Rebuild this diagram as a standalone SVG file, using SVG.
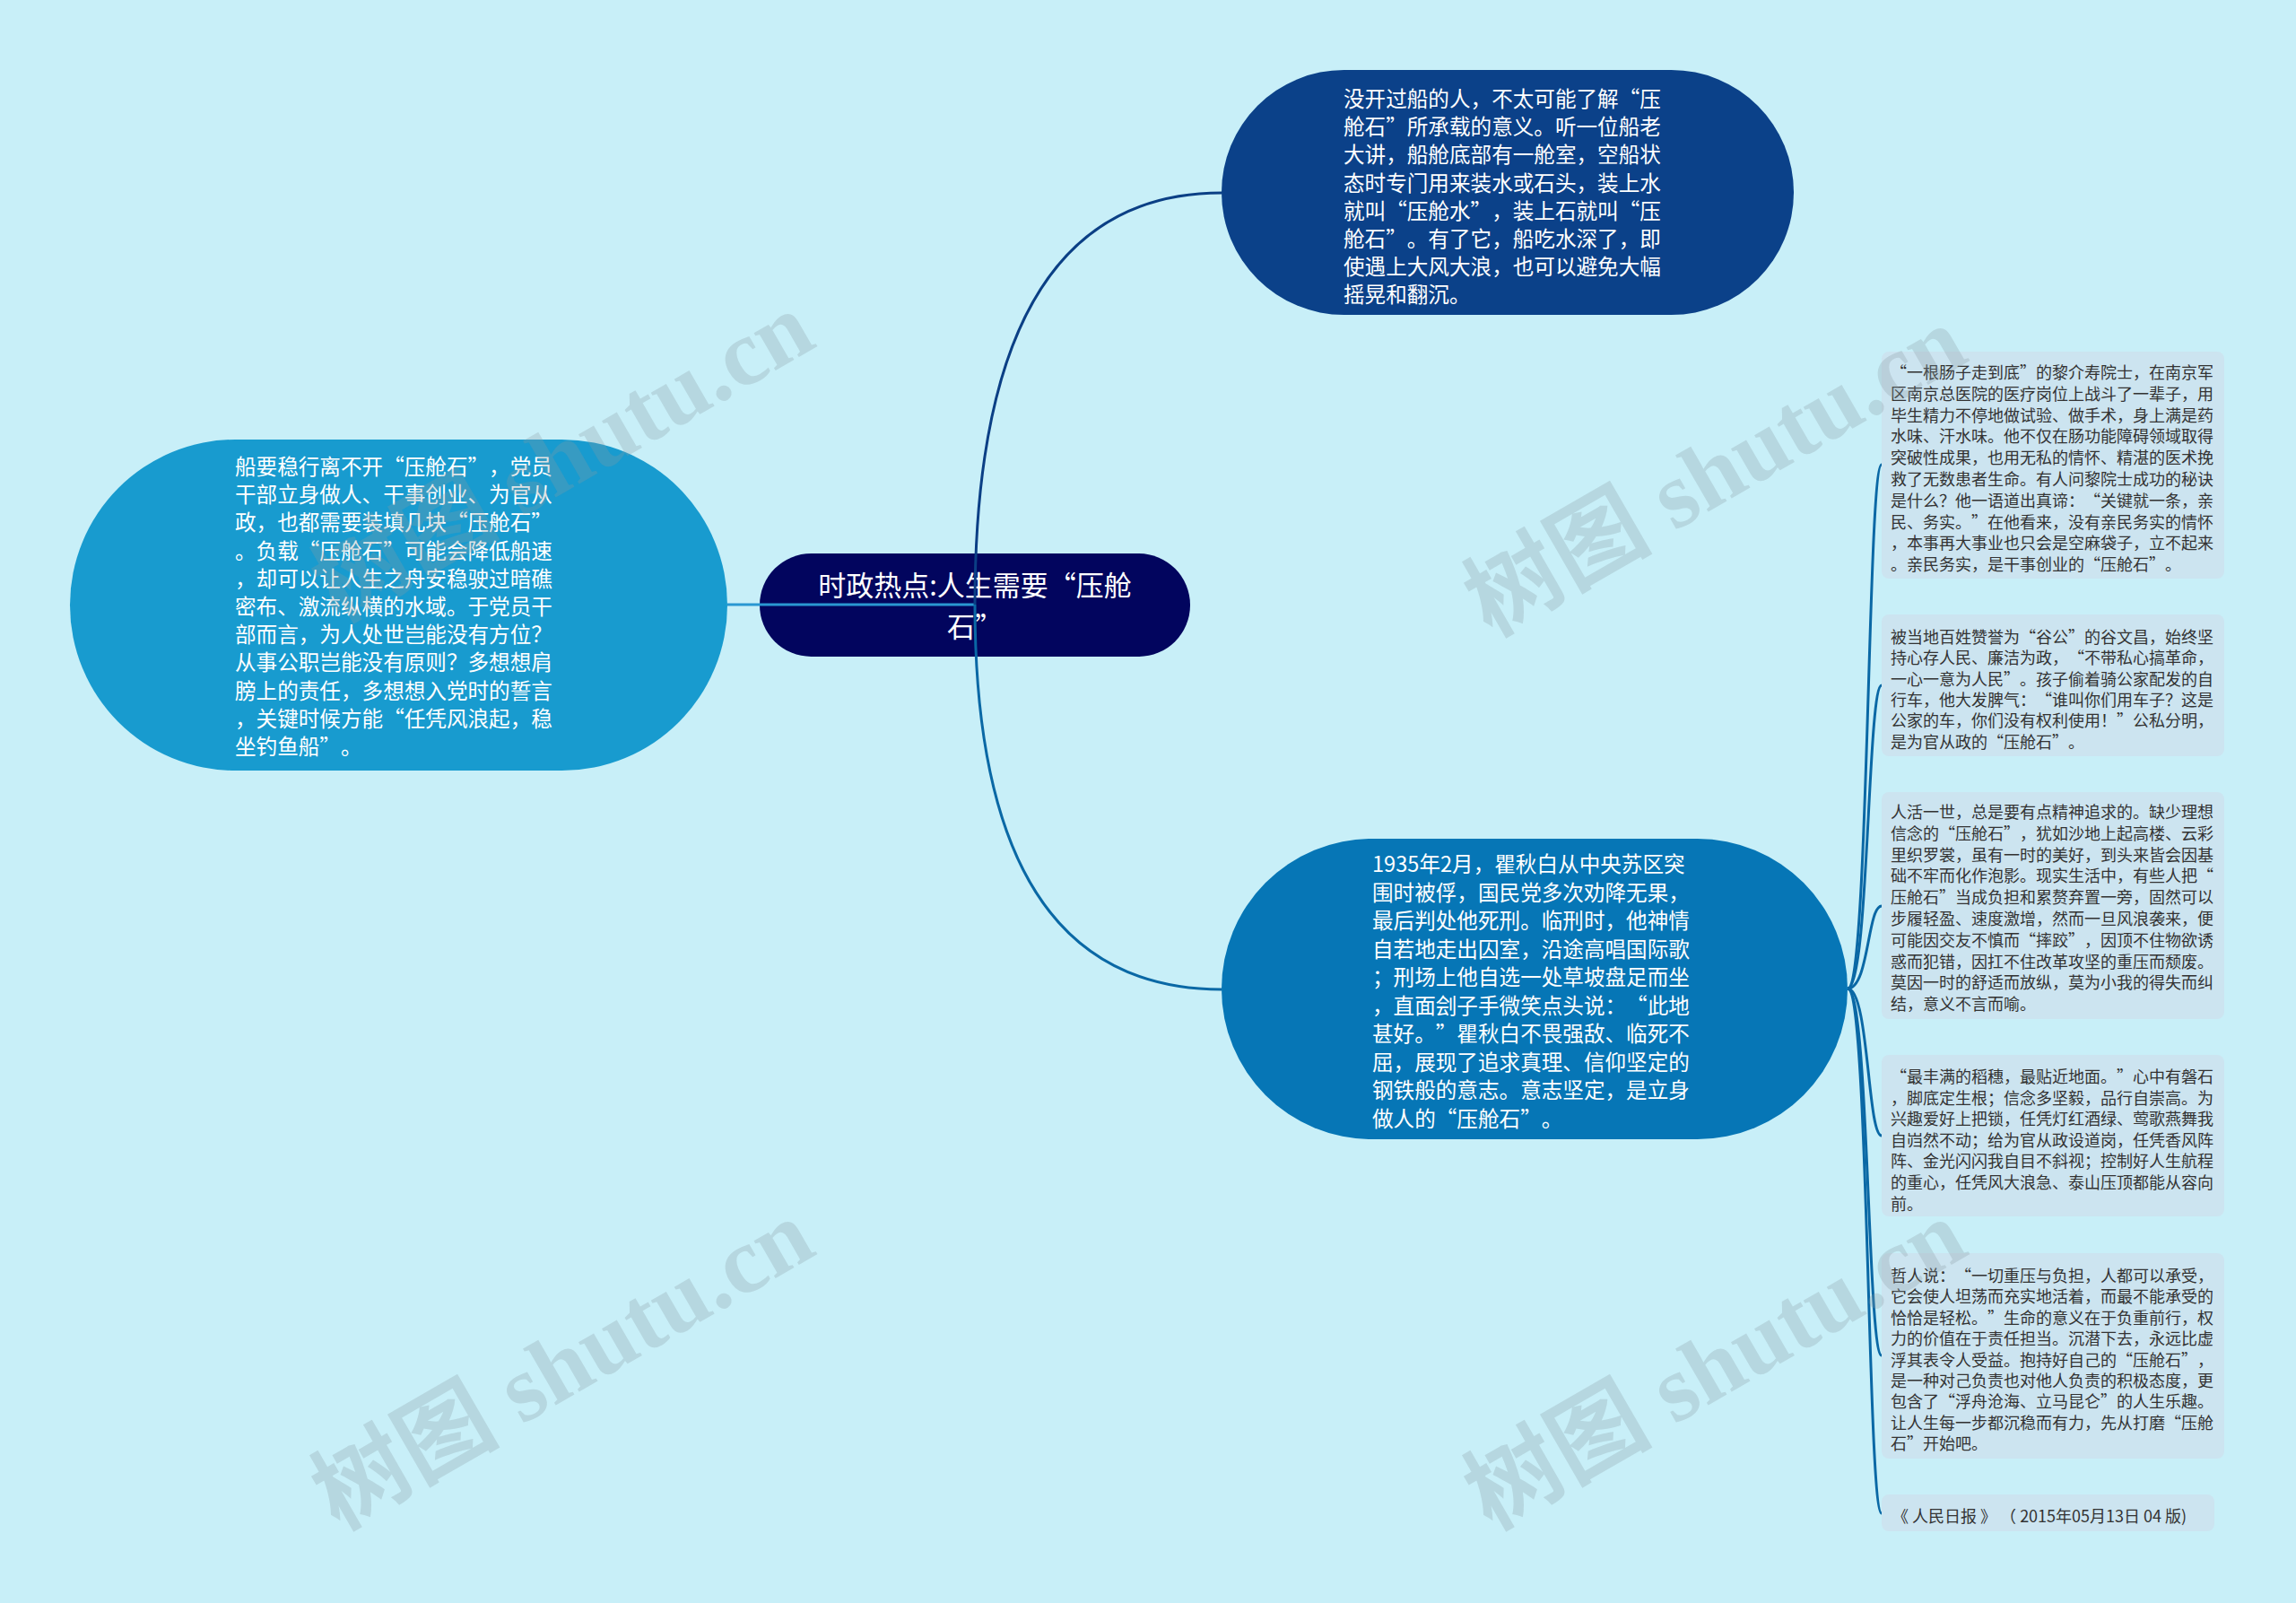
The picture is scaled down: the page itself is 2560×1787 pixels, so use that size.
<svg xmlns="http://www.w3.org/2000/svg" width="2560" height="1787" viewBox="0 0 2560 1787">
<style>
text{text-spacing-trim:space-all;}
.cjk{font-family:"Noto Sans CJK SC","Noto Sans",sans-serif;}
.big{font-size:23.6px;fill:#ffffff;}
.small{font-size:18px;fill:#333333;}
.root{font-size:31px;fill:#ffffff;}
.box{fill:#cce4f0;}
.conn{fill:none;stroke-width:3;}
.wm{font-family:"Liberation Serif","Noto Sans CJK SC",serif;font-size:105px;font-weight:bold;fill:#8a9aa0;fill-opacity:0.28;}
</style>
<rect x="0" y="0" width="2560" height="1787" fill="#c8eff8"/>

<g id="node-root">
<rect x="847" y="617" width="480" height="115" rx="57.5" fill="#02055e"/>
<text class="cjk root" text-anchor="middle"><tspan x="1087" y="664">时政热点:人生需要“压舱</tspan><tspan x="1087" y="710">石”</tspan></text>
</g>

<g id="node-left">
<rect x="78" y="490" width="733" height="369" rx="184.5" fill="#189bcf"/>
<text class="cjk big">
<tspan x="262" y="529">船要稳行离不开“压舱石”，党员</tspan>
<tspan x="262" dy="31.2">干部立身做人、干事创业、为官从</tspan>
<tspan x="262" dy="31.2">政，也都需要装填几块“压舱石”</tspan>
<tspan x="262" dy="31.2">。负载“压舱石”可能会降低船速</tspan>
<tspan x="262" dy="31.2">，却可以让人生之舟安稳驶过暗礁</tspan>
<tspan x="262" dy="31.2">密布、激流纵横的水域。于党员干</tspan>
<tspan x="262" dy="31.2">部而言，为人处世岂能没有方位？</tspan>
<tspan x="262" dy="31.2">从事公职岂能没有原则？多想想肩</tspan>
<tspan x="262" dy="31.2">膀上的责任，多想想入党时的誓言</tspan>
<tspan x="262" dy="31.2">，关键时候方能“任凭风浪起，稳</tspan>
<tspan x="262" dy="31.2">坐钓鱼船”。</tspan>
</text>
</g>

<g id="node-top">
<rect x="1362" y="78" width="638" height="273" rx="136.5" fill="#0b4189"/>
<text class="cjk big">
<tspan x="1498" y="119">没开过船的人，不太可能了解“压</tspan>
<tspan x="1498" dy="31.2">舱石”所承载的意义。听一位船老</tspan>
<tspan x="1498" dy="31.2">大讲，船舱底部有一舱室，空船状</tspan>
<tspan x="1498" dy="31.2">态时专门用来装水或石头，装上水</tspan>
<tspan x="1498" dy="31.2">就叫“压舱水”，装上石就叫“压</tspan>
<tspan x="1498" dy="31.2">舱石”。有了它，船吃水深了，即</tspan>
<tspan x="1498" dy="31.2">使遇上大风大浪，也可以避免大幅</tspan>
<tspan x="1498" dy="31.2">摇晃和翻沉。</tspan>
</text>
</g>

<g id="node-bottom">
<rect x="1362" y="935" width="698" height="335" rx="167.5" fill="#0676b6"/>
<text class="cjk big">
<tspan x="1530" y="972">1935年2月，瞿秋白从中央苏区突</tspan>
<tspan x="1530" dy="31.5">围时被俘，国民党多次劝降无果，</tspan>
<tspan x="1530" dy="31.5">最后判处他死刑。临刑时，他神情</tspan>
<tspan x="1530" dy="31.5">自若地走出囚室，沿途高唱国际歌</tspan>
<tspan x="1530" dy="31.5">；刑场上他自选一处草坡盘足而坐</tspan>
<tspan x="1530" dy="31.5">，直面刽子手微笑点头说：“此地</tspan>
<tspan x="1530" dy="31.5">甚好。”瞿秋白不畏强敌、临死不</tspan>
<tspan x="1530" dy="31.5">屈，展现了追求真理、信仰坚定的</tspan>
<tspan x="1530" dy="31.5">钢铁般的意志。意志坚定，是立身</tspan>
<tspan x="1530" dy="31.5">做人的“压舱石”。</tspan>
</text>
</g>

<g id="leaf-1">
<rect class="box" x="2098" y="392" width="382" height="253" rx="8"/>
<text class="cjk small">
<tspan x="2108" y="422">“一根肠子走到底”的黎介寿院士，在南京军</tspan>
<tspan x="2108" dy="23.8">区南京总医院的医疗岗位上战斗了一辈子，用</tspan>
<tspan x="2108" dy="23.8">毕生精力不停地做试验、做手术，身上满是药</tspan>
<tspan x="2108" dy="23.8">水味、汗水味。他不仅在肠功能障碍领域取得</tspan>
<tspan x="2108" dy="23.8">突破性成果，也用无私的情怀、精湛的医术挽</tspan>
<tspan x="2108" dy="23.8">救了无数患者生命。有人问黎院士成功的秘诀</tspan>
<tspan x="2108" dy="23.8">是什么？他一语道出真谛：“关键就一条，亲</tspan>
<tspan x="2108" dy="23.8">民、务实。”在他看来，没有亲民务实的情怀</tspan>
<tspan x="2108" dy="23.8">，本事再大事业也只会是空麻袋子，立不起来</tspan>
<tspan x="2108" dy="23.8">。亲民务实，是干事创业的“压舱石”。</tspan>
</text>
</g>

<g id="leaf-2">
<rect class="box" x="2098" y="685" width="382" height="158" rx="8"/>
<text class="cjk small">
<tspan x="2108" y="717">被当地百姓赞誉为“谷公”的谷文昌，始终坚</tspan>
<tspan x="2108" dy="23.3">持心存人民、廉洁为政，“不带私心搞革命，</tspan>
<tspan x="2108" dy="23.3">一心一意为人民”。孩子偷着骑公家配发的自</tspan>
<tspan x="2108" dy="23.3">行车，他大发脾气：“谁叫你们用车子？这是</tspan>
<tspan x="2108" dy="23.3">公家的车，你们没有权利使用！”公私分明，</tspan>
<tspan x="2108" dy="23.3">是为官从政的“压舱石”。</tspan>
</text>
</g>

<g id="leaf-3">
<rect class="box" x="2098" y="883" width="382" height="253" rx="8"/>
<text class="cjk small">
<tspan x="2108" y="912">人活一世，总是要有点精神追求的。缺少理想</tspan>
<tspan x="2108" dy="23.8">信念的“压舱石”，犹如沙地上起高楼、云彩</tspan>
<tspan x="2108" dy="23.8">里织罗裳，虽有一时的美好，到头来皆会因基</tspan>
<tspan x="2108" dy="23.8">础不牢而化作泡影。现实生活中，有些人把“</tspan>
<tspan x="2108" dy="23.8">压舱石”当成负担和累赘弃置一旁，固然可以</tspan>
<tspan x="2108" dy="23.8">步履轻盈、速度激增，然而一旦风浪袭来，便</tspan>
<tspan x="2108" dy="23.8">可能因交友不慎而“摔跤”，因顶不住物欲诱</tspan>
<tspan x="2108" dy="23.8">惑而犯错，因扛不住改革攻坚的重压而颓废。</tspan>
<tspan x="2108" dy="23.8">莫因一时的舒适而放纵，莫为小我的得失而纠</tspan>
<tspan x="2108" dy="23.8">结，意义不言而喻。</tspan>
</text>
</g>

<g id="leaf-4">
<rect class="box" x="2098" y="1176" width="382" height="180" rx="8"/>
<text class="cjk small">
<tspan x="2108" y="1207">“最丰满的稻穗，最贴近地面。”心中有磐石</tspan>
<tspan x="2108" dy="23.6">，脚底定生根；信念多坚毅，品行自崇高。为</tspan>
<tspan x="2108" dy="23.6">兴趣爱好上把锁，任凭灯红酒绿、莺歌燕舞我</tspan>
<tspan x="2108" dy="23.6">自岿然不动；给为官从政设道岗，任凭香风阵</tspan>
<tspan x="2108" dy="23.6">阵、金光闪闪我自目不斜视；控制好人生航程</tspan>
<tspan x="2108" dy="23.6">的重心，任凭风大浪急、泰山压顶都能从容向</tspan>
<tspan x="2108" dy="23.6">前。</tspan>
</text>
</g>

<g id="leaf-5">
<rect class="box" x="2098" y="1397" width="382" height="229" rx="8"/>
<text class="cjk small">
<tspan x="2108" y="1429">哲人说：“一切重压与负担，人都可以承受，</tspan>
<tspan x="2108" dy="23.4">它会使人坦荡而充实地活着，而最不能承受的</tspan>
<tspan x="2108" dy="23.4">恰恰是轻松。”生命的意义在于负重前行，权</tspan>
<tspan x="2108" dy="23.4">力的价值在于责任担当。沉潜下去，永远比虚</tspan>
<tspan x="2108" dy="23.4">浮其表令人受益。抱持好自己的“压舱石”，</tspan>
<tspan x="2108" dy="23.4">是一种对己负责也对他人负责的积极态度，更</tspan>
<tspan x="2108" dy="23.4">包含了“浮舟沧海、立马昆仑”的人生乐趣。</tspan>
<tspan x="2108" dy="23.4">让人生每一步都沉稳而有力，先从打磨“压舱</tspan>
<tspan x="2108" dy="23.4">石”开始吧。</tspan>
</text>
</g>

<g id="leaf-6">
<rect class="box" x="2098" y="1666" width="371" height="41" rx="8"/>
<text class="cjk small"><tspan x="2110" y="1697">《 人民日报 》 （ 2015年05月13日 04 版)</tspan></text>
</g>

<g id="connectors">
<path class="conn" d="M1087 674 L811 674" stroke="#2a97d2"/>
<path class="conn" d="M1087 674 Q1087 215 1362 215" stroke="#0b3f85"/>
<path class="conn" d="M1087 674 Q1087 1103 1362 1103" stroke="#0a68a5"/>
<path class="conn" stroke-width="2.5" stroke="#0a68a5" d="M2060 1102 C2084 1102 2082 518 2098 518"/>
<path class="conn" stroke-width="2.5" stroke="#0a68a5" d="M2060 1102 C2084 1102 2082 764 2098 764"/>
<path class="conn" stroke-width="2.5" stroke="#0a68a5" d="M2060 1102 C2084 1102 2082 1010 2098 1010"/>
<path class="conn" stroke-width="2.5" stroke="#0a68a5" d="M2060 1102 C2084 1102 2082 1266 2098 1266"/>
<path class="conn" stroke-width="2.5" stroke="#0a68a5" d="M2060 1102 C2084 1102 2082 1511 2098 1511"/>
<path class="conn" stroke-width="2.5" stroke="#0a68a5" d="M2060 1102 C2084 1102 2082 1687 2098 1687"/>
</g>

<g id="watermarks">
<text class="wm" text-anchor="middle" transform="translate(645 540) rotate(-30)">树图 shutu.cn</text>
<text class="wm" text-anchor="middle" transform="translate(645 1552) rotate(-30)">树图 shutu.cn</text>
<text class="wm" text-anchor="middle" transform="translate(1930 556) rotate(-30)">树图 shutu.cn</text>
<text class="wm" text-anchor="middle" transform="translate(1930 1552) rotate(-30)">树图 shutu.cn</text>
</g>
</svg>
